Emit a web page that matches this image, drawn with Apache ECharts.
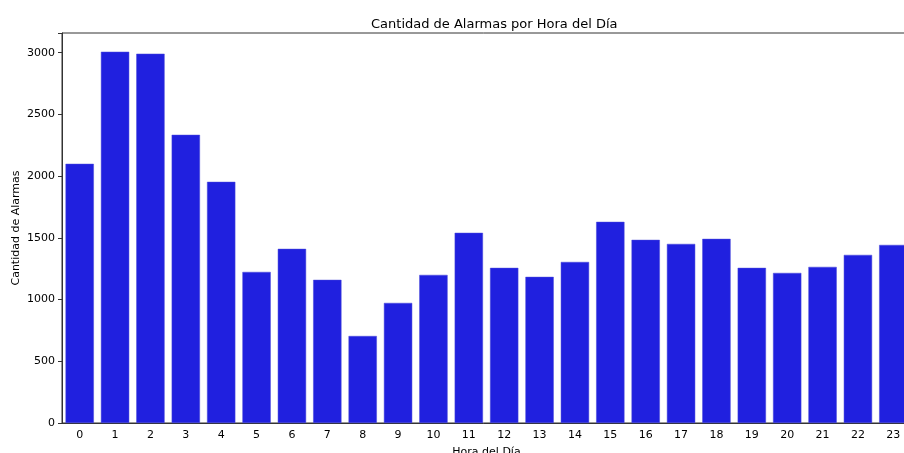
<!DOCTYPE html>
<html>
<head>
<meta charset="utf-8">
<script src="https://cdn.jsdelivr.net/npm/echarts@6/dist/echarts.min.js"></script>
<style>
  html, body { margin: 0; padding: 0; background: #fff; }
  #chart { width: 904px; height: 453px; }
</style>
</head>
<body>
<div id="chart"></div>
<script>
// horas del dia y cantidad de alarmas
const horas = ["0","1","2","3","4","5","6","7","8","9","10","11","12","13","14","15","16","17","18","19","20","21","22","23"];
const alarmas = [2100, 3008, 2992, 2335, 1954, 1224, 1411, 1160, 705, 973, 1200, 1541, 1257, 1184, 1305, 1630, 1484, 1451, 1492, 1257, 1216, 1265, 1362, 1443];
const yTicks = [0, 500, 1000, 1500, 2000, 2500, 3000];

const myChart = echarts.init(document.getElementById("chart"));
const font = "DejaVu Sans";
const option = {
  animation: false,
  title: {
    // centrado sobre el area del grafico, no sobre la ventana
    text: "Cantidad de Alarmas por Hora del Día",
    left: 366,
    top: 13,
    textStyle: { fontFamily: font, fontWeight: "normal", fontSize: 13, color: "#000" }
  },
  grid: {
    left: 62,
    top: 33,
    width: 849,
    height: 390,
    show: true,
    borderColor: "#333",
    borderWidth: 1,
    containLabel: false,
    outerBoundsMode: "none"
  },
  xAxis: {
    type: "category",
    data: horas,
    name: "Hora del Día",
    nameLocation: "middle",
    nameGap: 24,
    nameMoveOverlap: false,
    nameTextStyle: { fontFamily: font, fontSize: 11, color: "#000" },
    axisLine: { lineStyle: { color: "#333", width: 1 } },
    axisTick: { alignWithLabel: true, length: 4, lineStyle: { color: "#333" } },
    axisLabel: { fontFamily: font, fontSize: 11, color: "#000", margin: 7, interval: 0 }
  },
  yAxis: {
    type: "value",
    min: 0,
    max: 3160,
    interval: 500,
    name: "Cantidad de Alarmas",
    nameLocation: "middle",
    nameGap: 40,
    nameMoveOverlap: false,
    nameTextStyle: { fontFamily: font, fontSize: 11, color: "#000" },
    splitLine: { show: false },
    axisLine: { show: true, lineStyle: { color: "#333", width: 1 } },
    axisTick: { show: true, length: 4, lineStyle: { color: "#333" } },
    axisLabel: {
      fontFamily: font, fontSize: 11, color: "#000", margin: 7,
      formatter: function (v) { return yTicks.indexOf(v) >= 0 ? String(v) : ""; }
    }
  },
  series: [
    {
      type: "bar",
      data: alarmas,
      barCategoryGap: "20%",
      itemStyle: { color: "#2020df", borderColor: "#4848d8", borderWidth: 0.5 }
    }
  ]
};
myChart.setOption(option);
</script>
</body>
</html>
